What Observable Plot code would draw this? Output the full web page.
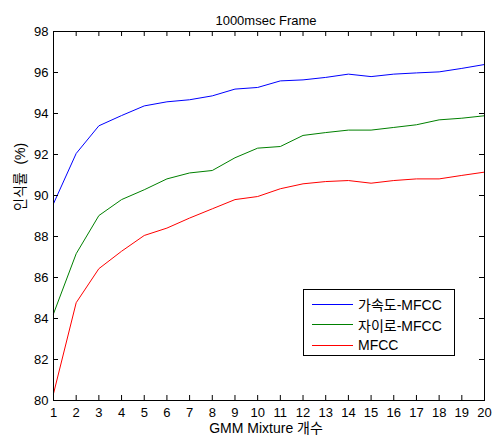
<!DOCTYPE html>
<html><head><meta charset="utf-8">
<script src="https://cdn.jsdelivr.net/npm/d3@7"></script>
<script src="https://cdn.jsdelivr.net/npm/@observablehq/plot@0.6"></script>
<style>
body{margin:0;background:#fff;font-family:"Liberation Sans",Arial,"Noto Sans CJK KR",sans-serif;}
#wrap{position:relative;width:492px;height:441px;}
#legend{position:absolute;left:303px;top:289px;width:152px;height:67px;border:1px solid #000;background:#fff;box-sizing:border-box;font-size:14px;}
#legend .row{position:absolute;left:8px;height:16px;display:flex;align-items:center;}
#legend .sw{width:41px;height:0;border-top:1px solid;margin-right:5px;}
</style></head><body>
<div id="wrap"></div>
<script>
const mixtures = d3.range(1, 21);
const seriesNames = ["가속도-MFCC", "자이로-MFCC", "MFCC"];
const seriesColors = ["#0000ff", "#008000", "#ff0000"];
const accelMFCC = [89.6, 92.05, 93.4, 93.9, 94.37, 94.57, 94.67, 94.86, 95.19, 95.27, 95.59, 95.64, 95.76, 95.92, 95.8, 95.92, 95.98, 96.03, 96.2, 96.39];
const gyroMFCC  = [84.23, 87.16, 89.02, 89.8, 90.28, 90.81, 91.1, 91.22, 91.84, 92.31, 92.39, 92.93, 93.07, 93.19, 93.19, 93.32, 93.45, 93.69, 93.77, 93.89];
const plainMFCC = [80.33, 84.77, 86.43, 87.28, 88.05, 88.41, 88.9, 89.35, 89.8, 89.95, 90.33, 90.57, 90.68, 90.73, 90.6, 90.73, 90.81, 90.81, 90.98, 91.14];
const xTicks = d3.range(1, 21);
const yTicks = d3.range(80, 99, 2);
const titleText = "1000msec Frame";
const xLabel = "GMM Mixture 개수";
const yLabel = "인식률\u00a0\u00a0(%)";

const allSeries = [accelMFCC, gyroMFCC, plainMFCC];
const data = allSeries.flatMap((vals, i) => vals.map((v, j) => ({x: mixtures[j], y: v, s: seriesNames[i]})));

const W = 492, H = 441, mL = 53, mR = 8, mT = 31, mB = 41;
const ph = H - mT - mB, pw = W - mL - mR;

const chart = Plot.plot({
  width: W, height: H,
  marginLeft: mL, marginRight: mR, marginTop: mT, marginBottom: mB,
  style: {fontFamily: '"Liberation Sans", Arial, "Noto Sans CJK KR", sans-serif', fontSize: "13px", background: "#fff", color: "#000"},
  x: {domain: [1, 20], label: null},
  y: {domain: [80, 98], label: null},
  color: {domain: seriesNames, range: seriesColors},
  marks: [
    Plot.line(data, {x: "x", y: "y", z: "s", stroke: "s", strokeWidth: 1}),
    Plot.frame({stroke: "#000", strokeWidth: 1}),
    Plot.tickX(xTicks, {x: d => d, insetTop: ph - 5, stroke: "#000"}),
    Plot.tickX(xTicks, {x: d => d, insetBottom: ph - 5, stroke: "#000"}),
    Plot.tickY(yTicks, {y: d => d, insetRight: pw - 5, stroke: "#000"}),
    Plot.tickY(yTicks, {y: d => d, insetLeft: pw - 5, stroke: "#000"}),
    Plot.axisX({ticks: xTicks, tickSize: 0, tickPadding: 7, tickFormat: d => d, fontSize: 13, label: null}),
    Plot.axisY({ticks: yTicks, tickSize: 0, tickPadding: 5, tickFormat: d => d, fontSize: 13, label: null}),
    Plot.text([titleText], {frameAnchor: "top", dx: -3, dy: -16, text: d => d, fontSize: 13}),
    Plot.text([xLabel], {frameAnchor: "bottom", dx: -3, dy: 32, text: d => d, fontSize: 14}),
    Plot.text([yLabel], {frameAnchor: "left", dx: -33, dy: -5, rotate: -90, text: d => d, fontSize: 14})
  ]
});
const wrap = document.getElementById("wrap");
wrap.appendChild(chart);

const legend = document.createElement("div");
legend.id = "legend";
seriesNames.forEach((n, i) => {
  const row = document.createElement("div");
  row.className = "row";
  row.style.top = (6 + i * 20.5) + "px";
  row.innerHTML = `<span class="sw" style="border-color:${seriesColors[i]}"></span><span>${n}</span>`;
  legend.appendChild(row);
});
wrap.appendChild(legend);
</script>
</body></html>
